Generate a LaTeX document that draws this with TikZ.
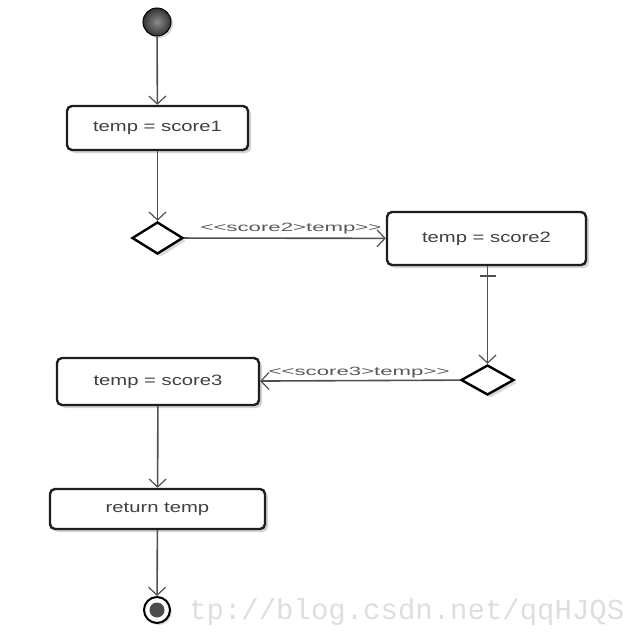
\documentclass[tikz,border=0pt]{standalone}
\usepackage{fontspec}
\setmainfont{Liberation Sans}
\newfontfamily\boxfont[FakeStretch=1.35]{Liberation Sans}
\newfontfamily\labfont[FakeStretch=1.85]{Liberation Sans}
\newfontfamily\wmfont{Liberation Mono}
\usetikzlibrary{arrows.meta,shapes.geometric,shadows,calc}
\definecolor{edgegray}{HTML}{505050}
\definecolor{boxline}{HTML}{1E1E1E}
\tikzset{
  actbox/.style={draw=boxline, line width=2.4pt, rounded corners=5pt, fill=white,
    inner sep=0pt, font=\boxfont\fontsize{15}{18}\selectfont, text=black!75,
    drop shadow={shadow xshift=3pt, shadow yshift=-3pt, opacity=0.35, fill=black!50}},
  decision/.style={diamond, draw=black, line width=2.4pt, fill=white, inner sep=0pt,
    drop shadow={shadow xshift=3pt, shadow yshift=-3pt, opacity=0.3, fill=black!50}},
  flow/.style={draw=edgegray, line width=1.6pt,
    -{Straight Barb[length=8pt,width=17pt,line width=1.2pt]}},
  guard/.style={font=\labfont\fontsize{12}{14}\selectfont, text=black!65, inner sep=0pt}
}
\begin{document}
\begin{tikzpicture}[x=1pt,y=-1pt]
\useasboundingbox (0,0) rectangle (640,640);
% watermark
\node[anchor=base west, inner sep=0pt, font=\wmfont\fontsize{29}{30}\selectfont, text=black!13] (wm) at (189,619) {tp://blog.csdn.net/qqHJQS};
% start
\node[circle, minimum size=28pt, inner sep=0pt, draw=black, line width=1pt,
  inner color=black!45, outer color=black!80,
  drop shadow={shadow xshift=2pt, shadow yshift=-2pt, opacity=0.3}] (start) at (157,22) {};
% boxes
\node[actbox, minimum width=181pt, minimum height=44pt] (b1) at (157.5,128) {temp = score1};
\node[decision, minimum width=51pt, minimum height=32pt] (d1) at (157.5,238) {};
\node[actbox, minimum width=199pt, minimum height=53pt] (b2) at (486.5,238.5) {temp = score2};
\node[decision, minimum width=53pt, minimum height=30pt] (d2) at (487.5,380) {};
\node[actbox, minimum width=202pt, minimum height=47pt] (b3) at (158,381.5) {temp = score3};
\node[actbox, minimum width=215pt, minimum height=40pt] (b4) at (157.5,509) {return temp};
% end
\node[circle, minimum size=26pt, inner sep=0pt, draw=black, line width=2pt, fill=white,
  drop shadow={shadow xshift=2pt, shadow yshift=-2pt, opacity=0.3}] (end) at (157,610) {};
\node[circle, minimum size=15pt, inner sep=0pt, fill=black!70] (endin) at (end.center) {};
% connectors
\draw[flow] (start) -- (b1);
\draw[flow] (b1) -- (d1);
\draw[flow] (d1) -- node[guard, above=3pt, xshift=6pt] (g1) {<<score2>temp>>} (b2);
\coordinate (b2s) at (b2.south -| d2.north);
\draw[flow] (b2s) -- (d2);
\coordinate (tickc) at ($(b2s)+(0,10)$);
\draw[draw=edgegray, line width=1.5pt] ($(tickc)+(-8,0)$) -- ($(tickc)+(8,0)$);
\draw[flow] (d2) -- node[guard, above=2pt, xshift=-1pt] (g2) {<<score3>temp>>} (b3);
\draw[flow] (b3) -- (b4);
\draw[flow] (b4) -- (end);
\end{tikzpicture}
\end{document}
